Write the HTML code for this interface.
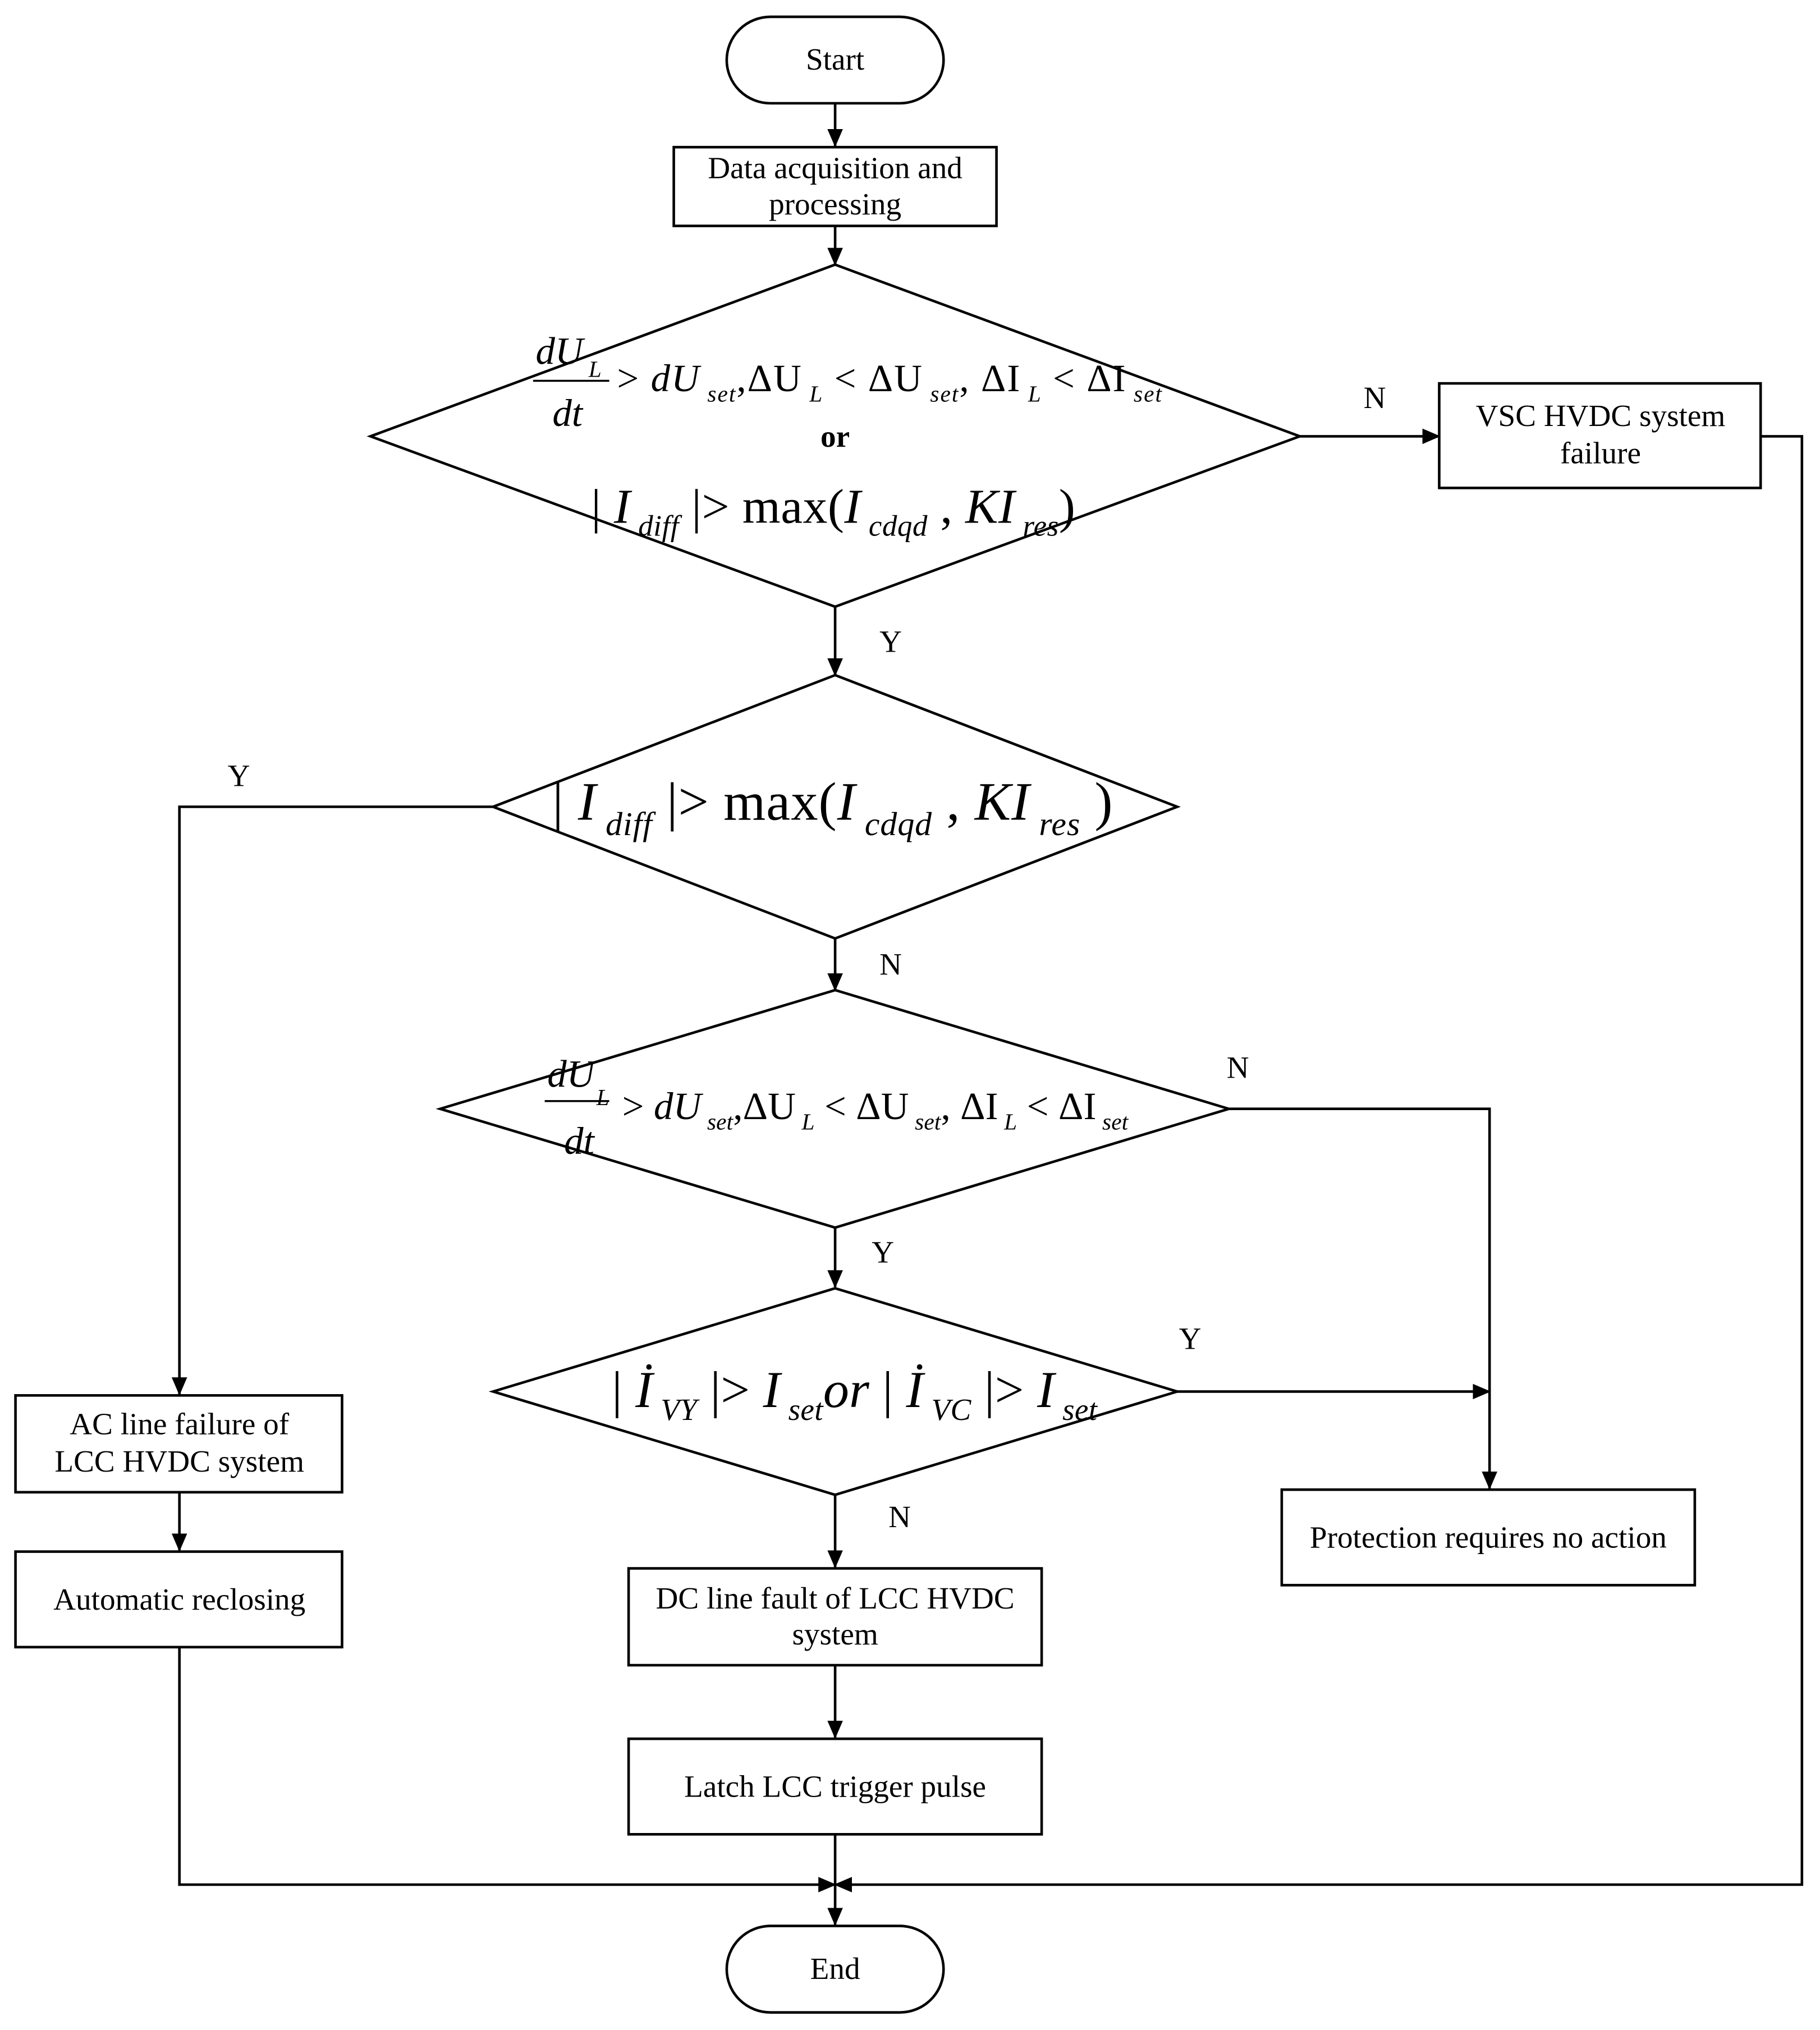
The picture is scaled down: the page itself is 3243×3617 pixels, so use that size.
<!DOCTYPE html>
<html><head><meta charset="utf-8"><style>
html,body{margin:0;padding:0;background:#fff;}
svg{display:block;}
text{font-family:"Liberation Serif",serif;fill:#000;}
.b{font-size:24px;}
.m{font-style:italic;}
</style></head><body>
<svg width="3243" height="3617" viewBox="0 0 1410 1572.6" xmlns="http://www.w3.org/2000/svg">
<defs><marker id="a" markerWidth="14" markerHeight="12" refX="13" refY="6" orient="auto" markerUnits="userSpaceOnUse"><path d="M0,0 L14,6 L0,12 z" fill="#000"/></marker></defs>
<g fill="none" stroke="#000" stroke-width="2">
<rect x="563" y="13" width="168" height="67" rx="34"/>
<rect x="522" y="114" width="250" height="61"/>
<polygon points="647,205 1007,338 647,470 287,338"/>
<rect x="1115" y="297" width="249" height="81"/>
<polygon points="647,523 912,625 647,727 382,625"/>
<rect x="12" y="1081" width="253" height="75"/>
<rect x="12" y="1202" width="253" height="74"/>
<polygon points="647,767 952,859 647,951 341,859"/>
<polygon points="647,998 912,1078 647,1158 382,1078"/>
<rect x="993" y="1154" width="320" height="74"/>
<rect x="487" y="1215" width="320" height="75"/>
<rect x="487" y="1347" width="320" height="74"/>
<rect x="563" y="1492" width="168" height="67" rx="34"/>
<g marker-end="url(#a)">
<line x1="647" y1="80" x2="647" y2="113"/>
<line x1="647" y1="175" x2="647" y2="205"/>
<line x1="1007" y1="338" x2="1115" y2="338"/>
<polyline points="1364,338 1396,338 1396,1460 647,1460"/>
<line x1="647" y1="470" x2="647" y2="523"/>
<polyline points="382,625 139,625 139,1080"/>
<line x1="139" y1="1156" x2="139" y2="1201"/>
<polyline points="139,1276 139,1460 647,1460"/>
<line x1="647" y1="727" x2="647" y2="767"/>
<polyline points="952,859 1154,859 1154,1153"/>
<line x1="647" y1="951" x2="647" y2="997"/>
<line x1="912" y1="1078" x2="1154" y2="1078"/>
<line x1="647" y1="1158" x2="647" y2="1214"/>
<line x1="647" y1="1290" x2="647" y2="1346"/>
<line x1="647" y1="1421" x2="647" y2="1491"/>
</g>
<line x1="413" y1="295" x2="472" y2="295" stroke-width="1.5"/>
<line x1="422" y1="853" x2="472" y2="853" stroke-width="1.5"/>
</g>
<g class="b" text-anchor="middle">
<text x="647" y="54">Start</text>
<text x="647" y="138">Data acquisition and</text>
<text x="647" y="166">processing</text>
<text x="1240" y="330">VSC HVDC system</text>
<text x="1240" y="359">failure</text>
<text x="139" y="1111">AC line failure of</text>
<text x="139" y="1140">LCC HVDC system</text>
<text x="139" y="1247">Automatic reclosing</text>
<text x="1153" y="1199">Protection requires no action</text>
<text x="647" y="1246">DC line fault of LCC HVDC</text>
<text x="647" y="1274">system</text>
<text x="647" y="1392">Latch LCC trigger pulse</text>
<text x="647" y="1533">End</text>
<text x="1065" y="316">N</text>
<text x="690" y="505">Y</text>
<text x="185" y="609">Y</text>
<text x="690" y="755">N</text>
<text x="959" y="835">N</text>
<text x="684" y="978">Y</text>
<text x="922" y="1045">Y</text>
<text x="697" y="1183">N</text>
<text x="647" y="346" font-weight="bold">or</text>
</g>
<g font-size="30">
<text x="415" y="282" class="m">dU</text><text x="456" y="292" font-size="18" class="m">L</text>
<text x="428" y="330" class="m">dt</text>
<text x="478" y="303" textLength="422" lengthAdjust="spacing">&gt; <tspan class="m">dU</tspan><tspan font-size="18" dy="8" class="m"> set</tspan><tspan dy="-8">,ΔU</tspan><tspan font-size="18" dy="8" class="m"> L</tspan><tspan dy="-8"> &lt; ΔU</tspan><tspan font-size="18" dy="8" class="m"> set</tspan><tspan dy="-8">,   ΔI</tspan><tspan font-size="18" dy="8" class="m"> L</tspan><tspan dy="-8"> &lt; ΔI</tspan><tspan font-size="18" dy="8" class="m"> set</tspan></text>
<text x="458" y="405" font-size="38" textLength="375" lengthAdjust="spacing">|<tspan class="m"> I</tspan><tspan font-size="23" dy="10" class="m"> diff</tspan><tspan dy="-10"> |&gt; max(</tspan><tspan class="m">I</tspan><tspan font-size="23" dy="10" class="m"> cdqd</tspan><tspan dy="-10"> , </tspan><tspan class="m">KI</tspan><tspan font-size="23" dy="10" class="m"> res</tspan><tspan dy="-10">)</tspan></text>
</g>
<text x="428" y="635" font-size="42" textLength="434" lengthAdjust="spacing">|<tspan class="m"> I</tspan><tspan font-size="26" dy="12" class="m"> diff</tspan><tspan dy="-12"> |&gt; max(</tspan><tspan class="m">I</tspan><tspan font-size="26" dy="12" class="m"> cdqd</tspan><tspan dy="-12"> , </tspan><tspan class="m">KI</tspan><tspan font-size="26" dy="12" class="m"> res</tspan><tspan dy="-12"> )</tspan></text>
<g font-size="30">
<text x="424" y="842" class="m">dU</text><text x="462" y="856" font-size="18" class="m">L</text>
<text x="437" y="894" class="m">dt</text>
<text x="482" y="867" textLength="392" lengthAdjust="spacing">&gt; <tspan class="m">dU</tspan><tspan font-size="18" dy="8" class="m"> set</tspan><tspan dy="-8">,ΔU</tspan><tspan font-size="18" dy="8" class="m"> L</tspan><tspan dy="-8"> &lt; ΔU</tspan><tspan font-size="18" dy="8" class="m"> set</tspan><tspan dy="-8">,   ΔI</tspan><tspan font-size="18" dy="8" class="m"> L</tspan><tspan dy="-8"> &lt; ΔI</tspan><tspan font-size="18" dy="8" class="m"> set</tspan></text>
</g>
<text x="474" y="1090" font-size="40" textLength="376" lengthAdjust="spacing">|<tspan class="m"> İ</tspan><tspan font-size="24" dy="10" class="m"> VY</tspan><tspan dy="-10"> |&gt; </tspan><tspan class="m">I</tspan><tspan font-size="24" dy="10" class="m"> set</tspan><tspan dy="-10" class="m">or</tspan><tspan> | </tspan><tspan class="m">İ</tspan><tspan font-size="24" dy="10" class="m"> VC</tspan><tspan dy="-10"> |&gt; </tspan><tspan class="m">I</tspan><tspan font-size="24" dy="10" class="m"> set</tspan></text>
</svg>
</body></html>
